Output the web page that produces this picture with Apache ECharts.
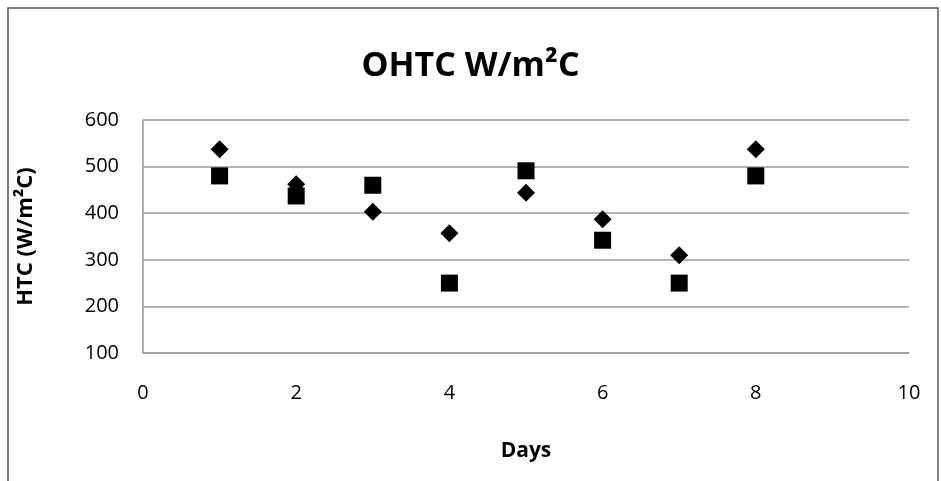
<!DOCTYPE html>
<html>
<head>
<meta charset="utf-8">
<script src="https://cdn.jsdelivr.net/npm/echarts@6/dist/echarts.min.js"></script>
<style>
  html, body { margin: 0; padding: 0; background: #fff; }
  #chart { width: 941px; height: 481px; }
</style>
</head>
<body>
<div id="chart"></div>
<script>
// days and measured values
const days = [1, 2, 3, 4, 5, 6, 7, 8]
const diamondVals = [537, 462, 403, 357, 444, 387, 310, 537]
const squareVals = [480, 437, 460, 250, 491, 342, 250, 480]
const xTicks = [0, 2, 4, 6, 8, 10]
const yTicks = [100, 200, 300, 400, 500, 600]

const font = '"Open Sans", "Noto Sans", sans-serif'

function pairs(xs, ys) {
  return xs.map(function(x, i) { return [x, ys[i]] })
}

const chart = echarts.init(document.getElementById('chart'))
chart.setOption({
  animation: false,
  title: {
    text: 'OHTC W/m²C',
    left: 'center',
    top: 44,
    textStyle: { fontFamily: font, fontSize: 34, fontWeight: 'bold', color: '#000' }
  },
  graphic: [{
    type: 'rect',
    shape: { x: 8, y: 8, width: 930, height: 480 },
    style: { fill: 'none', stroke: '#555', lineWidth: 1.5 },
    silent: true
  }],
  grid: { left: 143, right: 32, top: 120, bottom: 128 },
  xAxis: {
    type: 'value',
    min: xTicks[0],
    max: xTicks[xTicks.length - 1],
    interval: 2,
    name: 'Days',
    nameLocation: 'middle',
    nameGap: 88,
    nameTextStyle: { fontFamily: font, fontSize: 21, fontWeight: 'bold', color: '#000' },
    axisLine: { show: true, lineStyle: { color: '#999', width: 1.5 } },
    axisTick: { show: false },
    splitLine: { show: false },
    axisLabel: { fontFamily: font, fontSize: 20, color: '#000', margin: 30 }
  },
  yAxis: {
    type: 'value',
    min: yTicks[0],
    max: yTicks[yTicks.length - 1],
    interval: 100,
    name: 'HTC (W/m²C)',
    nameLocation: 'middle',
    nameGap: 106,
    nameTextStyle: { fontFamily: font, fontSize: 22, fontWeight: 'bold', color: '#000' },
    axisLine: { show: true, lineStyle: { color: '#999', width: 1.5 } },
    axisTick: { show: false },
    splitLine: { show: true, lineStyle: { color: '#999', width: 1.5 } },
    axisLabel: { fontFamily: font, fontSize: 20, color: '#000', margin: 24 }
  },
  series: [
    {
      name: 'diamond',
      type: 'scatter',
      symbol: 'diamond',
      symbolSize: [18, 18],
      itemStyle: { color: '#000', opacity: 1 },
      data: pairs(days, diamondVals)
    },
    {
      name: 'square',
      type: 'scatter',
      symbol: 'rect',
      symbolSize: [17, 17],
      itemStyle: { color: '#000', opacity: 1 },
      data: pairs(days, squareVals)
    }
  ]
})
</script>
</body>
</html>
